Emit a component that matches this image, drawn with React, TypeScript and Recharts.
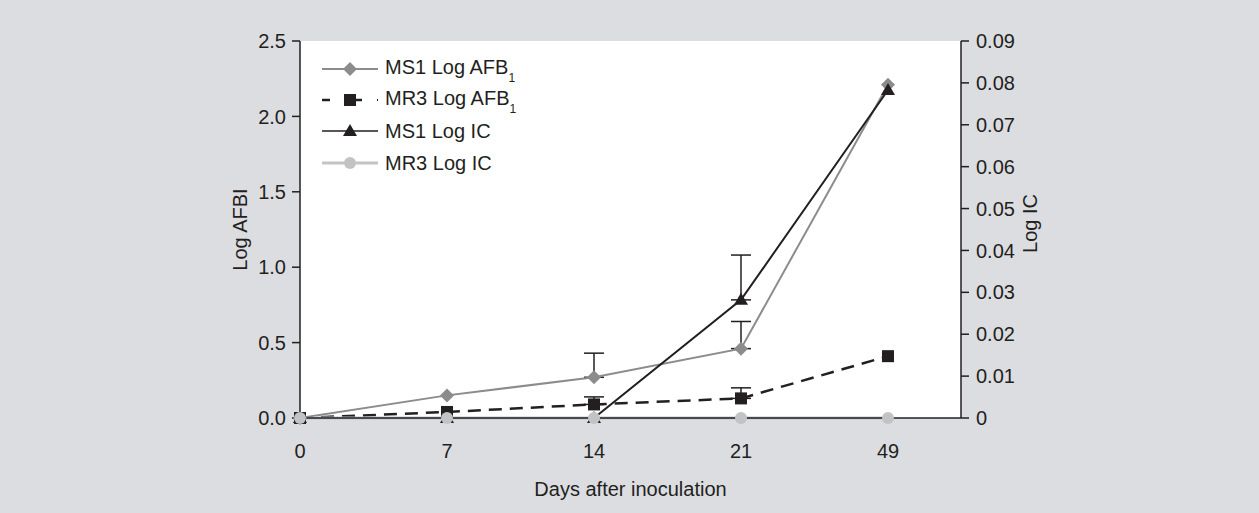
import React from 'react';
import { LineChart, Line, XAxis, YAxis, CartesianGrid, ErrorBar, Label } from 'recharts';

// days after inoculation (categories)
const days = ['0', '7', '14', '21', '49'];

// left axis: Log AFB1
const ms1Afb = [0, 0.15, 0.27, 0.46, 2.21];
const ms1AfbErr = [null, null, 0.16, 0.18, null];
const mr3Afb = [0, 0.04, 0.09, 0.13, 0.41];
const mr3AfbErr = [null, null, 0.05, 0.07, null];

// right axis: Log IC
const ms1Ic = [0, 0, 0, 0.0282, 0.0783];
const ms1IcErr = [null, null, null, 0.0107, null];
const mr3Ic = [0, 0, 0, 0, 0];

const leftTicks = [0, 0.5, 1, 1.5, 2, 2.5];
const rightTicks = [0, 0.01, 0.02, 0.03, 0.04, 0.05, 0.06, 0.07, 0.08, 0.09];

const data = days.map((day, i) => ({
  day,
  ms1Afb: ms1Afb[i],
  ms1AfbErr: ms1AfbErr[i] == null ? null : [0, ms1AfbErr[i]],
  mr3Afb: mr3Afb[i],
  mr3AfbErr: mr3AfbErr[i] == null ? null : [0, mr3AfbErr[i]],
  ms1Ic: ms1Ic[i],
  ms1IcErr: ms1IcErr[i] == null ? null : [0, ms1IcErr[i]],
  mr3Ic: mr3Ic[i],
}));

const FONT = '"Liberation Sans Narrow", "Liberation Sans", Arial, sans-serif';
const FS = 20;
const INK = '#231f20';
const GRAY = '#8c8c8c';
const LIGHT = '#c2c3c5';
const BG = '#dcdde0';

const Diamond = ({ cx, cy, fill }: any) => (
  <polygon points={`${cx},${cy - 7} ${cx + 7},${cy} ${cx},${cy + 7} ${cx - 7},${cy}`} fill={fill} />
);
const Square = ({ cx, cy, fill }: any) => <rect x={cx - 6} y={cy - 6} width={12} height={12} fill={fill} />;
const Triangle = ({ cx, cy, fill }: any) => (
  <polygon points={`${cx},${cy - 7} ${cx + 7},${cy + 5} ${cx - 7},${cy + 5}`} fill={fill} />
);
const Circle = ({ cx, cy, fill }: any) => <circle cx={cx} cy={cy} r={6} fill={fill} />;

const dotOf = (Shape: any, fill: string) => (p: any) =>
  p.cx == null ? <g key={`e-${p.index}`} /> : <Shape key={`${p.dataKey}-${p.index}`} cx={p.cx} cy={p.cy} fill={fill} />;

const tickStyle = { fontFamily: FONT, fontSize: FS, fill: INK };

const legendRows = [
  { name: 'MS1 Log AFB', sub: '1', kind: 'diamond' },
  { name: 'MR3 Log AFB', sub: '1', kind: 'square' },
  { name: 'MS1 Log IC', sub: '', kind: 'triangle' },
  { name: 'MR3 Log IC', sub: '', kind: 'circle' },
];

const LegendSample = ({ kind }: { kind: string }) => (
  <svg width={56} height={20} style={{ display: 'block', marginRight: 7 }}>
    {kind === 'diamond' && (
      <>
        <line x1={0} y1={10} x2={56} y2={10} stroke={GRAY} strokeWidth={2} />
        <Diamond cx={28} cy={10} fill={GRAY} />
      </>
    )}
    {kind === 'square' && (
      <>
        <line x1={0} y1={10} x2={8} y2={10} stroke={INK} strokeWidth={2.5} />
        <line x1={34} y1={10} x2={40} y2={10} stroke={INK} strokeWidth={2.5} />
        <line x1={55} y1={10} x2={56} y2={10} stroke={INK} strokeWidth={2} />
        <Square cx={28} cy={10} fill={INK} />
      </>
    )}
    {kind === 'triangle' && (
      <>
        <line x1={0} y1={10} x2={56} y2={10} stroke={INK} strokeWidth={1.5} />
        <Triangle cx={28} cy={10} fill={INK} />
      </>
    )}
    {kind === 'circle' && (
      <>
        <line x1={0} y1={10} x2={56} y2={10} stroke={LIGHT} strokeWidth={3} />
        <Circle cx={28} cy={10} fill={LIGHT} />
      </>
    )}
  </svg>
);

const sideLabel = (text: string, dxFromAxisLeft: number, cyShift: number) => (props: any) => {
  const vb = props.viewBox;
  const x = vb.x + dxFromAxisLeft;
  const y = vb.y + vb.height / 2 + cyShift;
  return (
    <text
      x={x}
      y={y}
      transform={`rotate(-90, ${x}, ${y})`}
      textAnchor="middle"
      dominantBaseline="central"
      style={{ fontFamily: FONT, fontSize: FS, fill: INK }}
    >
      {text}
    </text>
  );
};

export default function App() {
  return (
    <div style={{ width: 1259, height: 513, background: BG, position: 'relative', fontFamily: FONT }}>
      <style>{`body{margin:0;background:${BG}}`}</style>
      <LineChart width={1259} height={513} data={data} margin={{ top: 41, right: 218, bottom: 35, left: 220 }}>
        <CartesianGrid horizontal={false} vertical={false} fill="#ffffff" />
        <XAxis
          xAxisId="top"
          orientation="top"
          dataKey="day"
          height={0}
          padding={{ left: 0, right: 73 }}
          tick={false}
          tickLine={false}
          axisLine={{ stroke: INK, strokeWidth: 1.5 }}
        />
        <XAxis
          dataKey="day"
          interval={0}
          height={60}
          padding={{ left: 0, right: 73 }}
          tickLine={false}
          tickSize={0}
          tickMargin={26}
          tick={tickStyle}
          axisLine={{ stroke: INK, strokeWidth: 1.5 }}
        >
          <Label value="Days after inoculation" position="bottom" offset={4} style={{ fontFamily: FONT, fontSize: FS, fill: INK }} />
        </XAxis>
        <YAxis
          yAxisId="left"
          width={80}
          domain={[0, 2.5]}
          ticks={leftTicks}
          interval={0}
          tickFormatter={(v: number) => v.toFixed(1)}
          tick={tickStyle}
          tickSize={8}
          tickMargin={6}
          tickLine={{ stroke: INK, strokeWidth: 1.5 }}
          axisLine={{ stroke: INK, strokeWidth: 1.5 }}
        >
          <Label content={sideLabel('Log AFBI', 20, 0)} />
        </YAxis>
        <YAxis
          yAxisId="right"
          orientation="right"
          width={80}
          domain={[0, 0.09]}
          ticks={rightTicks}
          interval={0}
          tickFormatter={(v: number) => (v === 0 ? '0' : v.toFixed(2))}
          tick={tickStyle}
          tickSize={8}
          tickMargin={7}
          tickLine={{ stroke: INK, strokeWidth: 1.5 }}
          axisLine={{ stroke: INK, strokeWidth: 1.5 }}
        >
          <Label content={sideLabel('Log IC', 69, -6)} />
        </YAxis>

        <Line
          yAxisId="left"
          dataKey="ms1Afb"
          stroke={GRAY}
          strokeWidth={2}
          dot={dotOf(Diamond, GRAY)}
          isAnimationActive={false}
        >
          <ErrorBar dataKey="ms1AfbErr" direction="y" width={10} stroke={INK} strokeWidth={1.5} />
        </Line>
        <Line
          yAxisId="left"
          dataKey="mr3Afb"
          stroke={INK}
          strokeWidth={2.5}
          strokeDasharray="13 8"
          dot={dotOf(Square, INK)}
          isAnimationActive={false}
        >
          <ErrorBar dataKey="mr3AfbErr" direction="y" width={10} stroke={INK} strokeWidth={1.5} />
        </Line>
        <Line
          yAxisId="right"
          dataKey="ms1Ic"
          stroke={INK}
          strokeWidth={2}
          dot={dotOf(Triangle, INK)}
          isAnimationActive={false}
        >
          <ErrorBar dataKey="ms1IcErr" direction="y" width={10} stroke={INK} strokeWidth={1.5} />
        </Line>
        <Line
          yAxisId="right"
          dataKey="mr3Ic"
          stroke={LIGHT}
          strokeWidth={3}
          dot={dotOf(Circle, LIGHT)}
          isAnimationActive={false}
        />
      </LineChart>

      {/* legend, top-left inside the plot */}
      <div style={{ position: 'absolute', left: 322, top: 53, color: INK, fontSize: FS }}>
        {legendRows.map((r) => (
          <div key={r.name} style={{ display: 'flex', alignItems: 'center', height: 31.3 }}>
            <LegendSample kind={r.kind} />
            <span style={{ lineHeight: '20px', whiteSpace: 'nowrap' }}>
              {r.name}
              {r.sub && <span style={{ fontSize: 12, position: 'relative', top: 8 }}>{r.sub}</span>}
            </span>
          </div>
        ))}
      </div>
    </div>
  );
}
